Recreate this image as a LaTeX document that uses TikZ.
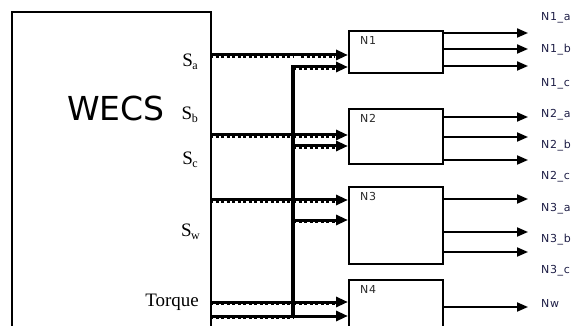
\documentclass[tikz,border=0pt]{standalone}
\usepackage{fontspec}
\usetikzlibrary{arrows.meta}
\newfontfamily\wecsfont{DejaVu Sans}
\newfontfamily\lblfont[LetterSpace=6]{DejaVu Sans}
\newfontfamily\seriffont{Liberation Serif}
\definecolor{lblcol}{HTML}{1E1E46}
\definecolor{boxlbl}{HTML}{2A2A2A}
\begin{document}
\begin{tikzpicture}[x=1pt,y=-1pt,
  blk/.style={draw, line width=2pt, anchor=north west, inner sep=0pt, minimum width=94pt},
  inl/.style={line width=3pt, -{Triangle[length=12pt,width=10pt]}},
  tex/.style={draw, line width=1.2pt, dash pattern=on 3pt off 2.5pt, transform canvas={yshift=-2pt}},
  busl/.style={line width=3.2pt},
  outl/.style={line width=2pt, -{Triangle[length=11pt,width=9pt]}},
  olbl/.style={anchor=west, font=\lblfont\fontsize{11}{13}\selectfont, text=lblcol, inner sep=0pt},
  blbl/.style={anchor=north west, font=\lblfont\fontsize{11}{13}\selectfont, text=boxlbl, inner sep=0pt},
  slbl/.style={anchor=east, font=\seriffont\fontsize{19}{22}\selectfont, inner sep=0pt},
  sub/.style={}]
\clip (0,0) rectangle (576,326);
\useasboundingbox (0,0) rectangle (576,326);

% WECS block
\node[blk, minimum width=199pt, minimum height=340pt] (wecs) at (11,11) {};
\node[font=\wecsfont\fontsize{33}{36}\selectfont, inner sep=0pt] (wecst) at (116,108) {WECS};

% signal labels
\newcommand\subl[1]{\kern-0.5pt\raisebox{-3.5pt}{\fontsize{12}{12}\selectfont #1}}
\node[slbl] (lsa) at (198,62) {S\subl{a}};
\node[slbl] (lsb) at (198,115) {S\subl{b}};
\node[slbl] (lsc) at (198,160) {S\subl{c}};
\node[slbl] (lsw) at (200,232) {S\subl{w}};
\node[slbl] (ltq) at (199,302) {Torque};

% network blocks
\node[blk, minimum height=42pt] (n1) at (348,30) {};
\node[blk, minimum height=55pt] (n2) at (348,108) {};
\node[blk, minimum height=77pt] (n3) at (348,186) {};
\node[blk, minimum height=60pt] (n4) at (348,279) {};
\node[blbl] (t1) at ([xshift=12pt,yshift=-6pt]n1.north west) {N1};
\node[blbl] (t2) at ([xshift=12pt,yshift=-6pt]n2.north west) {N2};
\node[blbl] (t3) at ([xshift=12pt,yshift=-6pt]n3.north west) {N3};
\node[blbl] (t4) at ([xshift=12pt,yshift=-6pt]n4.north west) {N4};

% input ports
\coordinate (pa) at (210,55);
\coordinate (pb) at (210,135);
\coordinate (pc) at (210,200);
\coordinate (pt) at (210,302);
\coordinate (pw) at (210,316);
\coordinate (bt) at (293,67);
\coordinate (b2) at (293,146);
\coordinate (b3) at (293,220);
\coordinate (bb) at (293,316);

% textures under input lines
\foreach \p in {pa,pb,pc,pt,pw}{\path[tex] (\p) -- (\p -| bb);}
\path[tex] (bt) -- ([xshift=-13pt]bt -| n1.west);
\path[tex] (b2) -- ([xshift=-13pt]b2 -| n2.west);
\path[tex] (b3) -- ([xshift=-13pt]b3 -| n3.west);
\path[tex] (pb -| bb) -- ([xshift=-13pt]pb -| n2.west);
\path[tex] (pc -| bb) -- ([xshift=-13pt]pc -| n3.west);
\path[tex] (pt -| bb) -- ([xshift=-13pt]pt -| n4.west);
\path[tex] ([xshift=8pt]pa -| bb) -- ([xshift=-13pt]pa -| n1.west);

% input lines
\draw[inl] (pa) -- (pa -| n1.west);
\draw[inl] (pb) -- (pb -| n2.west);
\draw[inl] (pc) -- (pc -| n3.west);
\draw[inl] (pt) -- (pt -| n4.west);
\draw[inl] (pw) -- (pw -| n4.west);
\draw[busl] (bb) -- ([yshift=-1.5pt]bt);
\draw[inl] ([xshift=-1.6pt]bt) -- (bt -| n1.west);
\draw[inl] (b2) -- (b2 -| n2.west);
\draw[inl] (b3) -- (b3 -| n3.west);

% outputs
\coordinate (oe) at (528,0);
\foreach \n/\y in {n1/33,n1/49,n1/66,n2/117,n2/137,n2/160,n3/199,n3/232,n3/252,n4/307}{
  \draw[outl] (\n.east |- 0,\y) -- (oe |- 0,\y);
}

% output labels
\node[olbl] (la1) at (541,18) {N1\_a};
\node[olbl] (lb1) at (541,50) {N1\_b};
\node[olbl] (lc1) at (541,84) {N1\_c};
\node[olbl] (la2) at (541,115) {N2\_a};
\node[olbl] (lb2) at (541,146) {N2\_b};
\node[olbl] (lc2) at (541,177) {N2\_c};
\node[olbl] (la3) at (541,209) {N3\_a};
\node[olbl] (lb3) at (541,240) {N3\_b};
\node[olbl] (lc3) at (541,271) {N3\_c};
\node[olbl] (lw) at (541,303) {Nw};
\end{tikzpicture}
\end{document}
